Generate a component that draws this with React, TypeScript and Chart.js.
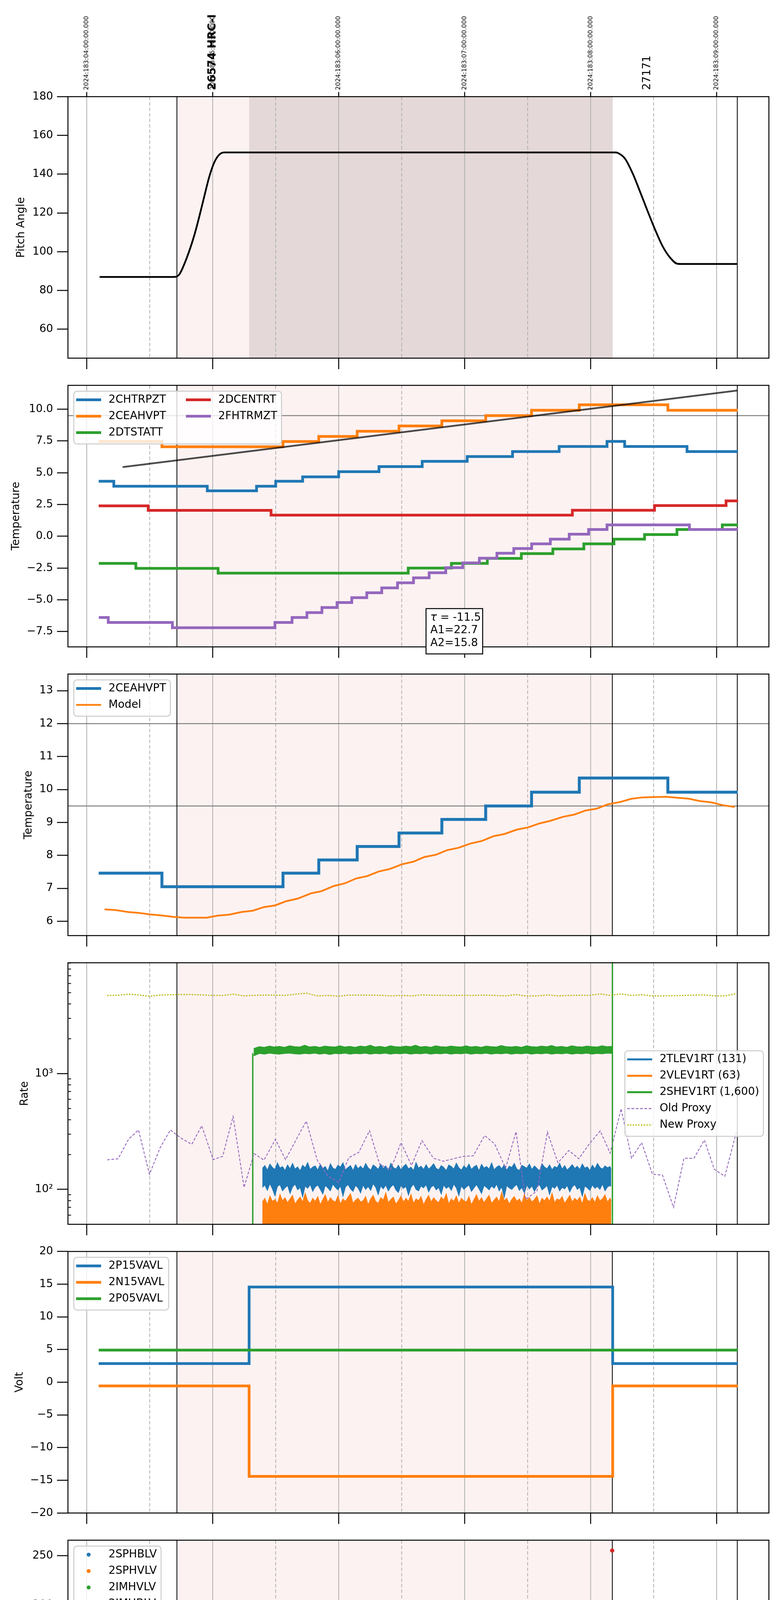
import React, { useEffect, useRef } from 'react';
import Chart from 'chart.js/auto';

type Pt = [number, number | null];
type Tri = [number, number, number];

// time axis: hours after 2024:183:04:00 UT
const hourTicks = [0, 1, 2, 3, 4, 5];
const halfTicks = [0.5, 1.5, 2.5, 3.5, 4.5];
const hourLabels = ['00h', '01h', '02h', '03h', '04h', '05h'];
const halfLabel = '30';
const topTimeLabels = [
  '2024:183:04:00:00.000', '2024:183:05:00:00.000', '2024:183:06:00:00.000',
  '2024:183:07:00:00.000', '2024:183:08:00:00.000', '2024:183:09:00:00.000',
];
const obsLabels = [
  { t: 1.0, text: '26574 HRC-I', bold: true },
  { t: 4.45, text: '27171', bold: false },
];
const xTitle = '2024-07-01 (183)';
const obsWindow = [0.716, 4.172];
const hrcOnWindow = [1.289, 4.175];
const dataEnd = 5.164;

// panel 1
const pitchTicks = [60, 80, 100, 120, 140, 160, 180];
const pitchAngle: Pt[] = [
  [0.102, 87], [0.694, 87], [0.735, 88.3], [0.795, 97], [0.854, 108.5], [0.893, 118], [0.933, 128.5],
  [0.972, 138.5], [1.012, 146], [1.051, 150], [1.091, 151.2], [4.194, 151.2], [4.214, 151],
  [4.274, 147.9], [4.333, 140.5], [4.392, 131], [4.452, 121], [4.511, 111.5], [4.57, 103],
  [4.63, 97], [4.689, 93.8], [4.72, 93.7], [5.164, 93.7],
];

// panel 2
const tempTicks = [-7.5, -5, -2.5, 0, 2.5, 5, 7.5, 10];
const tempTickLabels = ['−7.5', '−5.0', '−2.5', '0.0', '2.5', '5.0', '7.5', '10.0'];
const chtrpzt: Pt[] = [
  [0.095, 4.33], [0.215, 3.94], [0.957, 3.58], [1.348, 3.94], [1.5, 4.33], [1.714, 4.68], [2.0, 5.09],
  [2.32, 5.49], [2.663, 5.9], [3.02, 6.28], [3.38, 6.67], [3.75, 7.07], [4.13, 7.47], [4.27, 7.07],
  [4.765, 6.67], [5.17, 6.67],
];
const ceahvpt: Pt[] = [
  [0.095, 7.46], [0.597, 7.05], [1.558, 7.46], [1.842, 7.86], [2.147, 8.27], [2.479, 8.68], [2.819, 9.09],
  [3.167, 9.5], [3.531, 9.92], [3.91, 10.35], [4.613, 9.92], [5.167, 9.92],
];
const dtstatt: Pt[] = [
  [0.096, -2.13], [0.39, -2.52], [1.043, -2.9], [2.552, -2.5], [2.895, -2.13], [3.18, -1.74], [3.45, -1.36],
  [3.7, -0.99], [3.946, -0.59], [4.185, -0.22], [4.428, 0.14], [4.685, 0.54], [5.045, 0.9], [5.17, 0.9],
];
const dcentrt: Pt[] = [
  [0.095, 2.4], [0.488, 2.04], [1.463, 1.67], [3.855, 2.05], [4.507, 2.42], [5.075, 2.79], [5.17, 2.79],
];
const fhtrmzt: Pt[] = [
  [0.096, -6.39], [0.171, -6.78], [0.68, -7.19], [1.494, -6.78], [1.63, -6.39], [1.748, -6.0], [1.867, -5.6],
  [1.987, -5.21], [2.104, -4.83], [2.223, -4.44], [2.342, -4.06], [2.467, -3.66], [2.594, -3.27],
  [2.718, -2.87], [2.85, -2.47], [2.985, -2.09], [3.117, -1.72], [3.256, -1.33], [3.39, -0.96],
  [3.532, -0.59], [3.68, -0.22], [3.83, 0.17], [3.984, 0.54], [4.13, 0.9], [4.784, 0.54], [5.17, 0.54],
];
const ceahFit: Pt[] = [[0.285, 5.45], [5.164, 11.47]];
const fitLabels = ['τ = -11.5', 'A1=22.7', 'A2=15.8'];

// panel 3
const modelTicks = [6, 7, 8, 9, 10, 11, 12, 13];
const ceahModel: Pt[] = [
  [0.142, 6.36], [0.229, 6.34], [0.328, 6.28], [0.419, 6.25], [0.498, 6.21], [0.585, 6.18], [0.696, 6.13],
  [0.775, 6.11], [0.953, 6.11], [1.04, 6.17], [1.131, 6.2], [1.229, 6.28], [1.317, 6.32], [1.407, 6.43],
  [1.494, 6.48], [1.585, 6.61], [1.676, 6.69], [1.783, 6.85], [1.862, 6.91], [1.961, 7.07], [2.048, 7.15],
  [2.139, 7.3], [2.226, 7.37], [2.317, 7.51], [2.408, 7.59], [2.502, 7.73], [2.594, 7.81], [2.68, 7.95],
  [2.772, 8.02], [2.862, 8.16], [2.95, 8.23], [3.048, 8.36], [3.139, 8.44], [3.226, 8.58], [3.317, 8.65],
  [3.412, 8.78], [3.503, 8.85], [3.594, 8.97], [3.681, 9.05], [3.78, 9.17], [3.871, 9.24], [3.958, 9.36],
  [4.049, 9.42], [4.136, 9.55], [4.234, 9.62], [4.325, 9.72], [4.412, 9.76], [4.503, 9.77], [4.598, 9.78],
  [4.689, 9.75], [4.78, 9.72], [4.867, 9.65], [4.958, 9.61], [5.053, 9.52], [5.144, 9.47],
];

// panel 4 (rates, log)
const rateTicks = [100, 1000];
const rateTickLabels = ['10²', '10³'];
const rateMinorTicks = [60, 70, 80, 90, 200, 300, 400, 500, 600, 700, 800, 900, 2000, 3000, 4000, 5000, 6000, 7000, 8000, 9000];
const proxyTimes = [
  0.162, 0.249, 0.332, 0.411, 0.498, 0.585, 0.664, 0.747, 0.834, 0.913, 1.004, 1.079, 1.162, 1.249, 1.328,
  1.407, 1.498, 1.578, 1.664, 1.743, 1.83, 1.914, 2.0, 2.08, 2.159, 2.245, 2.325, 2.412, 2.495, 2.578,
  2.661, 2.752, 2.831, 2.91, 2.989, 3.068, 3.159, 3.238, 3.325, 3.408, 3.483, 3.574, 3.657, 3.74, 3.827,
  3.906, 3.989, 4.076, 4.155, 4.242, 4.325, 4.405, 4.491, 4.57, 4.658, 4.741, 4.82, 4.903, 4.982, 5.065, 5.156,
];
const oldProxy = [
  180, 184, 271, 326, 135, 232, 326, 278, 245, 355, 181, 193, 426, 104, 204, 179, 271, 181, 271, 389, 179,
  131, 115, 188, 209, 322, 165, 148, 254, 161, 264, 186, 175, 184, 193, 195, 292, 247, 153, 315, 82, 97,
  313, 170, 217, 184, 247, 320, 206, 497, 186, 254, 135, 133, 70, 186, 186, 267, 149, 130, 310,
];
const newProxy = [
  4732, 4742, 4853, 4781, 4656, 4764, 4797, 4817, 4817, 4781, 4732, 4732, 4853, 4690, 4742, 4764, 4764,
  4732, 4853, 4955, 4690, 4732, 4656, 4764, 4764, 4764, 4742, 4690, 4732, 4690, 4781, 4742, 4742, 4732,
  4742, 4732, 4764, 4732, 4690, 4817, 4690, 4690, 4781, 4690, 4732, 4742, 4742, 4876, 4732, 4876, 4732,
  4797, 4690, 4690, 4710, 4732, 4764, 4781, 4690, 4690, 4900,
];
// noisy event-rate bands, read as upper/lower edges at these sample times
const bandTimes = [
  1.394, 1.414, 1.434, 1.454, 1.474, 1.494, 1.514, 1.534, 1.554, 1.574,
  1.594, 1.614, 1.634, 1.654, 1.674, 1.694, 1.714, 1.734, 1.754, 1.774,
  1.794, 1.814, 1.834, 1.854, 1.874, 1.894, 1.914, 1.934, 1.954, 1.974,
  1.994, 2.014, 2.034, 2.054, 2.074, 2.094, 2.114, 2.134, 2.154, 2.174,
  2.194, 2.214, 2.234, 2.254, 2.274, 2.294, 2.314, 2.334, 2.354, 2.374,
  2.394, 2.414, 2.434, 2.454, 2.474, 2.494, 2.514, 2.534, 2.554, 2.574,
  2.594, 2.614, 2.634, 2.654, 2.674, 2.694, 2.714, 2.734, 2.754, 2.774,
  2.794, 2.814, 2.834, 2.854, 2.874, 2.894, 2.914, 2.934, 2.954, 2.974,
  2.994, 3.014, 3.034, 3.054, 3.074, 3.094, 3.114, 3.134, 3.154, 3.174,
  3.194, 3.214, 3.234, 3.254, 3.274, 3.294, 3.314, 3.334, 3.354, 3.374,
  3.394, 3.414, 3.434, 3.454, 3.474, 3.494, 3.514, 3.534, 3.554, 3.574,
  3.594, 3.614, 3.634, 3.654, 3.674, 3.694, 3.714, 3.734, 3.754, 3.774,
  3.794, 3.814, 3.834, 3.854, 3.874, 3.894, 3.914, 3.934, 3.954, 3.974,
  3.994, 4.014, 4.034, 4.054, 4.074, 4.094, 4.114, 4.134, 4.154, 4.163,
];
const tlevHigh = [
  152, 161, 147, 166, 155, 149, 170, 153, 158, 146, 163, 151, 168, 150, 157, 145, 162, 154, 171, 149,
  156, 160, 147, 165, 152, 158, 144, 167, 153, 149, 162, 156, 170, 148, 155, 161, 146, 164, 151, 159,
  150, 168, 154, 147, 163, 157, 149, 166, 152, 160, 145, 169, 155, 150, 162, 148, 158, 165, 151, 156,
  146, 171, 153, 159, 149, 164, 150, 157, 167, 152, 148, 161, 155, 146, 163, 158, 150, 169, 154, 147,
  160, 152, 166, 149, 157, 162, 145, 165, 153, 158, 150, 170, 148, 156, 161, 151, 164, 147, 159, 155,
  168, 150, 146, 162, 157, 153, 166, 149, 160, 152, 145, 167, 156, 151, 163, 148, 158, 154, 169, 150,
  161, 147, 155, 164, 152, 159, 149, 166, 153, 157, 146, 162, 151, 168, 155, 150, 160, 154, 158, 150,
];
const tlevLow = [
  104, 109, 98, 112, 101, 88, 106, 110, 97, 103, 108, 92, 105, 111, 99, 104, 86, 107, 102, 110,
  96, 105, 109, 100, 91, 108, 103, 97, 111, 104, 99, 107, 87, 105, 110, 101, 96, 108, 103, 93,
  109, 100, 106, 98, 112, 104, 90, 107, 101, 109, 97, 105, 110, 99, 94, 108, 102, 106, 89, 104,
  111, 100, 97, 107, 103, 110, 95, 105, 108, 99, 104, 91, 109, 102, 106, 98, 111, 103, 88, 107,
  100, 105, 109, 96, 103, 110, 101, 92, 108, 104, 99, 107, 102, 111, 97, 105, 85, 108, 103, 100,
  106, 110, 98, 104, 93, 109, 101, 107, 96, 105, 110, 99, 103, 108, 90, 106, 102, 109, 97, 104,
  101, 108, 95, 105, 110, 100, 104, 87, 107, 103, 98, 109, 102, 106, 100, 111, 97, 105, 108, 106,
];
const vlevHigh = [
  78, 84, 74, 88, 79, 82, 76, 91, 80, 85, 77, 83, 89, 75, 81, 86, 78, 93, 80, 76,
  84, 79, 87, 74, 82, 90, 77, 85, 80, 78, 88, 75, 83, 79, 86, 92, 76, 81, 84, 78,
  80, 87, 74, 83, 89, 79, 76, 85, 81, 94, 77, 82, 86, 75, 80, 88, 78, 84, 79, 91,
  76, 83, 80, 87, 74, 82, 89, 78, 85, 80, 77, 86, 81, 92, 75, 83, 79, 88, 76, 84,
  80, 78, 87, 74, 82, 90, 79, 85, 77, 83, 89, 76, 81, 86, 78, 95, 80, 84, 75, 82,
  87, 79, 83, 76, 91, 80, 85, 78, 82, 88, 75, 84, 80, 86, 79, 93, 77, 83, 81, 87,
  76, 82, 89, 78, 84, 80, 86, 75, 92, 81, 79, 85, 77, 88, 80, 83, 90, 78, 84, 80,
];
const shevBand: Tri[] = [
  [1.325, 1650, 1420], [1.37, 1710, 1490], [1.41, 1690, 1470], [1.45, 1730, 1500], [1.49, 1700, 1480],
  [1.53, 1720, 1470], [1.57, 1690, 1490], [1.61, 1740, 1500], [1.65, 1710, 1480], [1.69, 1700, 1470],
  [1.73, 1760, 1490], [1.77, 1700, 1480], [1.81, 1720, 1500], [1.85, 1690, 1470], [1.89, 1730, 1490],
  [1.93, 1710, 1460], [1.97, 1700, 1490], [2.01, 1740, 1480], [2.05, 1700, 1500], [2.09, 1720, 1470],
  [2.13, 1690, 1490], [2.17, 1730, 1480], [2.21, 1710, 1500], [2.25, 1760, 1470], [2.29, 1700, 1490],
  [2.33, 1720, 1480], [2.37, 1690, 1500], [2.41, 1740, 1470], [2.45, 1710, 1490], [2.49, 1700, 1480],
  [2.53, 1730, 1500], [2.57, 1710, 1470], [2.61, 1760, 1490], [2.65, 1700, 1480], [2.69, 1720, 1500],
  [2.73, 1690, 1470], [2.77, 1740, 1490], [2.81, 1710, 1480], [2.85, 1700, 1500], [2.89, 1730, 1470],
  [2.93, 1710, 1490], [2.97, 1700, 1480], [3.01, 1740, 1500], [3.05, 1700, 1470], [3.09, 1720, 1490],
  [3.13, 1690, 1480], [3.17, 1730, 1500], [3.21, 1710, 1470], [3.25, 1700, 1490], [3.29, 1750, 1480],
  [3.33, 1710, 1500], [3.37, 1700, 1470], [3.41, 1720, 1490], [3.45, 1690, 1480], [3.49, 1740, 1500],
  [3.53, 1710, 1470], [3.57, 1700, 1490], [3.61, 1730, 1480], [3.65, 1710, 1500], [3.69, 1750, 1470],
  [3.73, 1700, 1490], [3.77, 1720, 1480], [3.81, 1690, 1500], [3.85, 1740, 1470], [3.89, 1710, 1490],
  [3.93, 1700, 1480], [3.97, 1730, 1500], [4.01, 1710, 1470], [4.05, 1700, 1490], [4.09, 1740, 1480],
  [4.13, 1710, 1500], [4.17, 1720, 1490],
];
const shevEdges: Pt[] = [[1.318, 1], [1.318, 1500], [1.319, null], [4.173, 100000], [4.173, 1]];

// panel 5
const voltTicks = [-20, -15, -10, -5, 0, 5, 10, 15, 20];
const voltTickLabels = ['−20', '−15', '−10', '−5', '0', '5', '10', '15', '20'];
const p15vavl: Pt[] = [[0.095, 2.86], [1.289, 14.57], [4.175, 2.86], [5.17, 2.86]];
const n15vavl: Pt[] = [[0.095, -0.57], [1.289, -14.4], [4.175, -0.57], [5.17, -0.57]];
const p05vavl: Pt[] = [[0.095, 4.91], [5.17, 4.91]];

// panel 6
const hvTicks = [0, 50, 100, 150, 200, 250];
const imhvlvRamp: Pt[] = [
  [1.34, 100.3], [1.344, 98.4], [1.352, 95.7], [1.36, 90.8], [1.368, 87], [1.376, 84.3], [1.388, 81.7], [1.4, 79.4],
];
const imhvlvLevel: Pt[] = [[1.4, 79.4], [4.175, 79.4]];
const imhvlvOutliers: Pt[] = [[1.732, 127.3], [2.261, 127.3], [2.317, 127.3], [2.337, 127.3]];
const imhblvRamp: Pt[] = [
  [1.34, 128], [1.34, 126.1], [1.34, 124.2], [1.344, 119.3], [1.344, 106.4], [1.352, 105.2], [1.356, 101.4],
  [1.364, 97.6], [1.372, 93.8], [1.384, 90.8], [1.396, 88.1], [1.4, 86.2],
];
const imhblvLevel: Pt[] = [[1.4, 86.2], [4.175, 86.2]];
const imhblvOutliers: Pt[] = [[1.732, 79.4], [1.763, 79.4], [2.261, 79.4], [2.317, 79.4], [2.337, 79.4], [4.171, 255.3]];

// panel 7
const detTicks = [2.5, 5, 7.5, 10, 12.5, 15, 17.5];
const detTickLabels = ['2.5', '5.0', '7.5', '10.0', '12.5', '15.0', '17.5'];
const spinatm: Pt[] = [[1.289, -5], [1.289, 3.17], [1.348, 3.67], [1.498, 3.17], [2.068, 3.67], [3.392, 4.17], [4.163, 4.17]];
const sphvatm: Pt[] = [
  [1.289, -5], [1.289, 15.3], [2.107, 15.66], [2.495, 16.02], [2.843, 16.37], [2.89, 15.95], [2.893, 16.37],
  [3.167, 16.7], [3.49, 17.06], [3.819, 17.41], [4.143, 17.76], [4.163, 17.76],
];
const iminatm: Pt[] = [[1.289, -5], [1.289, 1.75], [3.373, 2.22], [4.163, 2.22]];
const imhvatm: Pt[] = [
  [1.289, -5], [1.289, 14.65], [1.494, 14.99], [1.613, 15.33], [1.732, 15.73], [1.862, 16.09], [2.0, 16.37],
  [2.167, 16.73], [2.344, 17.06], [2.554, 17.41], [2.791, 17.76], [3.028, 18.13], [3.293, 18.47],
  [3.582, 18.84], [3.867, 19.2], [4.175, 19.2], [4.175, 40], [4.177, -10],
];
// telemetry dropouts: [from, to] hours, and per series [low, high] during each window
const glitchWindows = [[1.704, 1.795], [1.831, 1.91], [2.206, 2.356]];
const spinatmGlitch = [[-5, 3.17], [-5, 3.17], [-5, 3.67]];
const sphvatmGlitch = [[8.62, 15.3], [8.95, 15.3], [9.6, 15.66]];
const iminatmGlitch = [[1.75, 3.24], [1.75, 3.24], [1.75, 3.7]];
const imhvatmGlitch = [[15.3, 15.73], [15.3, 16.09], [15.6, 16.73]];

// panel 8
const feaTicks = [-8, -6, -4, -2, 0];
const feaTickLabels = ['−8', '−6', '−4', '−2', '0'];
const fradpyt: Pt[] = [
  [1.656, -20], [1.656, -7.95], [1.771, -7.55], [1.882, -7.14], [2.0, -6.77], [2.119, -6.37], [2.23, -5.95],
  [2.356, -5.58], [2.483, -5.19], [2.621, -4.79], [2.76, -4.39], [2.89, -4.02], [3.029, -3.65], [3.175, -3.26],
  [3.325, -2.87], [3.471, -2.48], [3.622, -2.11], [3.78, -1.73], [3.938, -1.37], [4.104, -0.99], [4.44, -1.37],
  [4.598, -1.74], [4.729, -1.37], [5.005, -1.74], [5.171, -1.74],
];
const fepratm: Pt[] = [
  [1.289, -20], [1.289, -7.31], [1.356, -6.86], [1.4, -6.44], [1.447, -6.03], [1.51, -5.62], [1.593, -5.2],
  [1.684, -4.75], [1.803, -4.36], [1.902, -3.94], [2.02, -3.53], [2.147, -3.1], [2.258, -2.68], [2.396, -2.26],
  [2.542, -1.83], [2.68, -1.41], [2.831, -0.97], [2.977, -0.54], [3.127, -0.08], [3.286, 0.36], [3.452, 0.81],
  [3.622, 1.28], [3.792, 1.73], [3.969, 2.1], [4.158, 2.1], [4.16, 1.0],
];
const fe00atm: Pt[] = [
  [1.289, -20], [1.289, -8.17], [1.447, -7.83], [1.558, -7.46], [1.645, -7.08], [1.75, -6.71], [1.822, -6.41],
  [1.921, -6.03], [2.0, -5.68], [2.08, -5.35], [2.178, -4.98], [2.27, -4.64], [2.356, -4.3], [2.475, -3.96],
  [2.562, -3.62], [2.673, -3.29], [2.76, -2.57], [2.762, -3.29], [2.772, -2.95], [2.882, -2.61], [2.989, -2.29],
  [3.096, -1.95], [3.147, -0.58], [3.15, -1.95], [3.206, -1.61], [3.317, -1.28], [3.424, -0.95], [3.542, -0.62],
  [3.55, -0.26], [3.553, -0.62], [3.661, -0.28], [3.772, 0.04], [3.886, 0.38], [4.005, 0.68], [4.136, 1.0],
  [4.175, 1.0], [4.175, 20], [4.177, -20],
];
const fe00atmGlitch = [[-7.2, 20], [-6.5, 20], [-5.0, 20]];
const fepratmGlitch = [null, null, [-6.03, -2.68]];

// ---------------------------------------------------------------------------
const FONT = '"DejaVu Sans", sans-serif';
const FS = 27.8;
const X_MIN = -0.149;
const X_MAX = 5.415;
const Y_AXIS_W = 174;
const RIGHT_PAD = 31;
const PANEL_TOP = 247.4;
const PANEL_H = 669.5;
const PANEL_STEP = 739.1;

const C = {
  blue: '#1f77b4', orange: '#ff7f0e', green: '#2ca02c', red: '#d62728',
  purple: '#9467bd', olive: '#bcbd22', pink: '#fdf2f2', rose: '#e4d8d8',
};

const xy = (a: Pt[]) => a.map(([x, y]) => ({ x, y }));
const zipT = (times: number[], vals: number[]) => times.map((t, i) => [t, vals[i]] as Pt);
const ln = (label: string, a: Pt[], color: string, width: number, more: any = {}) => ({
  label, data: xy(a), borderColor: color, backgroundColor: color, borderWidth: width,
  pointRadius: 0, fill: false, ...more,
});
const stp = (label: string, a: Pt[], color: string, width: number, more: any = {}) =>
  ln(label, a, color, width, { stepped: 'before', ...more });
const glitches = (ranges: any[], color: string) =>
  ranges.flatMap((r, i) => (r ? [{
    label: '', data: [{ x: glitchWindows[i][0], y: r[1] }, { x: glitchWindows[i][1], y: r[1] }],
    borderColor: 'rgba(0,0,0,0)', backgroundColor: color, borderWidth: 1, pointRadius: 0, fill: { value: r[0] },
  }] : []));
const dots = (a: Pt[], color: string) => ({
  label: '', data: xy(a), showLine: false, pointRadius: 5, pointBackgroundColor: color,
  pointBorderColor: color, pointBorderWidth: 1, borderColor: color, backgroundColor: color,
});

interface LegendItem { label: string; color: string; kind?: 'line' | 'dot'; width?: number; dash?: number[] }
interface Deco {
  bands: { from: number; to: number; color: string }[];
  vlines: number[];
  hlines?: number[];
  legend?: { loc: 'tl' | 'cr'; cols?: number; items: LegendItem[] };
  minorY?: number[];
  top?: boolean;
  bottom?: boolean;
  fitBox?: boolean;
}

const pinkBand = { from: obsWindow[0], to: obsWindow[1], color: C.pink };
const allVlines = [obsWindow[0], obsWindow[1], dataEnd];

function drawLegend(ctx: CanvasRenderingContext2D, ca: any, lg: NonNullable<Deco['legend']>) {
  ctx.font = `${FS}px ${FONT}`;
  const n = lg.items.length;
  const cols = lg.cols ?? 1;
  const rows = Math.ceil(n / cols);
  const colW = 281;
  const lastCol = lg.items.slice((cols - 1) * rows);
  const textW = Math.max(...lastCol.map((it) => ctx.measureText(it.label).width));
  const w = (cols - 1) * colW + 6 + 83 + textW + 11;
  const h = 51 + (rows - 1) * 42;
  const left = lg.loc === 'cr' ? ca.right - 14 - w : ca.left + 15;
  const top = lg.loc === 'cr' ? (ca.top + ca.bottom) / 2 - h / 2 : ca.top + 15;
  ctx.beginPath();
  ctx.roundRect(left, top, w, h, 8);
  ctx.fillStyle = 'rgba(255,255,255,0.8)';
  ctx.fill();
  ctx.strokeStyle = '#cccccc';
  ctx.lineWidth = 2.5;
  ctx.stroke();
  lg.items.forEach((it, i) => {
    const c = Math.floor(i / rows);
    const r = i % rows;
    const sx = left + 6 + c * colW;
    const y = top + 22 + r * 42;
    if (it.kind === 'dot') {
      ctx.fillStyle = it.color;
      ctx.beginPath();
      ctx.arc(sx + 32, y, 5, 0, Math.PI * 2);
      ctx.fill();
    } else {
      ctx.strokeStyle = it.color;
      ctx.lineWidth = it.width ?? 7;
      ctx.setLineDash(it.dash ?? []);
      ctx.beginPath();
      ctx.moveTo(sx, y);
      ctx.lineTo(sx + 64, y);
      ctx.stroke();
      ctx.setLineDash([]);
    }
    ctx.fillStyle = '#000';
    ctx.textAlign = 'left';
    ctx.textBaseline = 'middle';
    ctx.fillText(it.label, sx + 83, y);
  });
}

const makeDeco = (d: Deco) => ({
  id: 'deco',
  beforeDatasetsDraw(chart: any) {
    const { ctx, chartArea: ca, scales } = chart;
    const X = (v: number) => scales.x.getPixelForValue(v);
    const Y = (v: number) => scales.y.getPixelForValue(v);
    const vline = (x: number) => { ctx.beginPath(); ctx.moveTo(x, ca.top); ctx.lineTo(x, ca.bottom); ctx.stroke(); };
    ctx.save();
    ctx.beginPath();
    ctx.rect(ca.left, ca.top, ca.right - ca.left, ca.bottom - ca.top);
    ctx.clip();
    for (const b of d.bands) {
      ctx.fillStyle = b.color;
      ctx.fillRect(X(b.from), ca.top, X(b.to) - X(b.from), ca.bottom - ca.top);
    }
    ctx.strokeStyle = '#b0b0b0';
    ctx.lineWidth = 2;
    hourTicks.forEach((t) => vline(X(t)));
    ctx.setLineDash([9, 5]);
    halfTicks.forEach((t) => vline(X(t)));
    ctx.setLineDash([]);
    ctx.strokeStyle = '#808080';
    ctx.lineWidth = 2.5;
    for (const v of d.hlines ?? []) {
      ctx.beginPath(); ctx.moveTo(ca.left, Y(v)); ctx.lineTo(ca.right, Y(v)); ctx.stroke();
    }
    ctx.strokeStyle = '#000';
    ctx.lineWidth = 2;
    d.vlines.forEach((t) => vline(X(t)));
    ctx.restore();
  },
  afterDatasetsDraw(chart: any) {
    const { ctx, chartArea: ca, scales } = chart;
    const X = (v: number) => scales.x.getPixelForValue(v);
    const Y = (v: number) => scales.y.getPixelForValue(v);
    ctx.save();
    ctx.strokeStyle = '#000';
    ctx.lineWidth = 2.5;
    ctx.strokeRect(ca.left, ca.top, ca.right - ca.left, ca.bottom - ca.top);
    ctx.beginPath();
    for (const t of hourTicks) {
      const x = X(t);
      ctx.moveTo(x, ca.bottom);
      ctx.lineTo(x, ca.bottom + 28);
      if (d.top) { ctx.moveTo(x, ca.top); ctx.lineTo(x, ca.top - 12); }
    }
    ctx.stroke();
    if (d.minorY) {
      ctx.lineWidth = 2;
      ctx.beginPath();
      for (const v of d.minorY) { const y = Y(v); ctx.moveTo(ca.left, y); ctx.lineTo(ca.left + 8, y); }
      ctx.stroke();
    }
    if (d.legend) drawLegend(ctx, ca, d.legend);
    if (d.fitBox) {
      const bx = ca.left + 917;
      const by = ca.bottom - 98;
      ctx.fillStyle = '#fff';
      ctx.fillRect(bx, by, 145, 116);
      ctx.strokeStyle = '#000';
      ctx.lineWidth = 2.5;
      ctx.strokeRect(bx, by, 145, 116);
      ctx.fillStyle = '#000';
      ctx.textAlign = 'left';
      ctx.textBaseline = 'middle';
      fitLabels.forEach((s, i) => {
        const y = by + 23.5 + i * 32.6;
        let x = bx + 11;
        let rest = s;
        if (s.startsWith('τ')) {
          ctx.font = `italic ${FS}px ${FONT}`;
          ctx.fillText('τ', x, y);
          x += ctx.measureText('τ').width;
          rest = s.slice(1);
        }
        ctx.font = `${FS}px ${FONT}`;
        ctx.fillText(rest, x, y);
      });
    }
    if (d.top) {
      ctx.fillStyle = '#000';
      ctx.textAlign = 'left';
      ctx.textBaseline = 'middle';
      const vtext = (t: number, text: string, font: string) => {
        ctx.save();
        ctx.translate(X(t), ca.top - 17);
        ctx.rotate(-Math.PI / 2);
        ctx.font = font;
        ctx.fillText(text, 0, 0);
        ctx.restore();
      };
      hourTicks.forEach((t, i) => vtext(t, topTimeLabels[i], `16px ${FONT}`));
      obsLabels.forEach((o) => vtext(o.t, o.text, `${o.bold ? 'bold ' : ''}${FS}px ${FONT}`));
    }
    if (d.bottom) {
      ctx.fillStyle = '#000';
      ctx.textAlign = 'center';
      ctx.textBaseline = 'middle';
      ctx.font = `${FS}px ${FONT}`;
      hourTicks.forEach((t, i) => ctx.fillText(hourLabels[i], X(t), ca.bottom + 49.5));
      ctx.font = `18.5px ${FONT}`;
      halfTicks.forEach((t) => ctx.fillText(halfLabel, X(t), ca.bottom + 15));
      ctx.font = `33.3px ${FONT}`;
      ctx.fillText(xTitle, (ca.left + ca.right) / 2, ca.bottom + 88);
    }
    ctx.restore();
  },
});

interface PanelSpec {
  title: string;
  titlePad: number;
  log?: boolean;
  min: number;
  max: number;
  ticks: number[];
  labels: string[];
  datasets: any[];
  deco: Deco;
}

const yAxis = (p: PanelSpec) => ({
  type: p.log ? 'logarithmic' : 'linear',
  min: p.min,
  max: p.max,
  afterBuildTicks: (s: any) => { s.ticks = p.ticks.map((v) => ({ value: v })); },
  afterFit: (s: any) => { s.width = Y_AXIS_W; },
  ticks: {
    autoSkip: false, padding: 10, color: '#000', font: { family: FONT, size: FS },
    callback: (_v: any, i: number) => p.labels[i],
  },
  grid: { drawOnChartArea: false, drawTicks: true, tickLength: 28, tickWidth: 2.5, tickColor: '#000' },
  border: { display: false },
  title: { display: true, text: p.title, color: '#000', font: { family: FONT, size: FS }, padding: { top: p.titlePad, bottom: 0 } },
});

const num = (a: number[]) => a.map(String);

const panels: PanelSpec[] = [
  {
    title: 'Pitch Angle', titlePad: 38, min: 45.1, max: 180, ticks: pitchTicks, labels: num(pitchTicks),
    datasets: [ln('Pitch', pitchAngle, '#000', 4.5, { cubicInterpolationMode: 'monotone' })],
    deco: {
      bands: [pinkBand, { from: hrcOnWindow[0], to: hrcOnWindow[1], color: C.rose }],
      vlines: [obsWindow[0], dataEnd], top: true,
    },
  },
  {
    title: 'Temperature', titlePad: 25, min: -8.7, max: 11.88, ticks: tempTicks, labels: tempTickLabels,
    datasets: [
      stp('2CHTRPZT', chtrpzt, C.blue, 7),
      stp('2CEAHVPT', ceahvpt, C.orange, 7),
      stp('2DTSTATT', dtstatt, C.green, 7),
      stp('2DCENTRT', dcentrt, C.red, 7),
      stp('2FHTRMZT', fhtrmzt, C.purple, 7),
      ln('fit', ceahFit, 'rgba(0,0,0,0.7)', 4.5),
    ],
    deco: {
      bands: [pinkBand], vlines: allVlines, hlines: [9.5], fitBox: true,
      legend: {
        loc: 'tl', cols: 2,
        items: [
          { label: '2CHTRPZT', color: C.blue }, { label: '2CEAHVPT', color: C.orange },
          { label: '2DTSTATT', color: C.green }, { label: '2DCENTRT', color: C.red },
          { label: '2FHTRMZT', color: C.purple },
        ],
      },
    },
  },
  {
    title: 'Temperature', titlePad: 57, min: 5.565, max: 13.505, ticks: modelTicks, labels: num(modelTicks),
    datasets: [stp('2CEAHVPT', ceahvpt, C.blue, 7.5), ln('Model', ceahModel, C.orange, 4.5)],
    deco: {
      bands: [pinkBand], vlines: allVlines, hlines: [9.5, 12],
      legend: { loc: 'tl', items: [{ label: '2CEAHVPT', color: C.blue, width: 7 }, { label: 'Model', color: C.orange, width: 4.5 }] },
    },
  },
  {
    title: 'Rate', titlePad: 47, log: true, min: 50, max: 9057, ticks: rateTicks, labels: rateTickLabels,
    datasets: [
      ln('2TLEV1RT (131)', zipT(bandTimes, tlevHigh), C.blue, 1.5, { fill: '+1' }),
      ln('', zipT(bandTimes, tlevLow), C.blue, 1.5),
      ln('2VLEV1RT (63)', zipT(bandTimes, vlevHigh), C.orange, 1.5, { fill: 'start' }),
      ln('', shevEdges, C.green, 3.5),
      ln('2SHEV1RT (1,600)', shevBand.map(([t, hi]) => [t, hi] as Pt), C.green, 1.5, { fill: '+1' }),
      ln('', shevBand.map(([t, , lo]) => [t, lo] as Pt), C.green, 1.5),
      ln('Old Proxy', zipT(proxyTimes, oldProxy), C.purple, 2.2, { borderDash: [7, 4] }),
      ln('New Proxy', zipT(proxyTimes, newProxy), C.olive, 3, { borderDash: [4, 3] }),
    ],
    deco: {
      bands: [pinkBand], vlines: allVlines, minorY: rateMinorTicks,
      legend: {
        loc: 'cr',
        items: [
          { label: '2TLEV1RT (131)', color: C.blue, width: 5 },
          { label: '2VLEV1RT (63)', color: C.orange, width: 5 },
          { label: '2SHEV1RT (1,600)', color: C.green, width: 5 },
          { label: 'Old Proxy', color: C.purple, width: 2.5, dash: [7, 4] },
          { label: 'New Proxy', color: C.olive, width: 3, dash: [4, 3] },
        ],
      },
    },
  },
  {
    title: 'Volt', titlePad: 34, min: -20, max: 20, ticks: voltTicks, labels: voltTickLabels,
    datasets: [
      stp('2P15VAVL', p15vavl, C.blue, 7),
      stp('2N15VAVL', n15vavl, C.orange, 7),
      stp('2P05VAVL', p05vavl, C.green, 7),
    ],
    deco: {
      bands: [pinkBand], vlines: allVlines,
      legend: { loc: 'tl', items: [{ label: '2P15VAVL', color: C.blue }, { label: '2N15VAVL', color: C.orange }, { label: '2P05VAVL', color: C.green }] },
    },
  },
  {
    title: 'HV Monitor', titlePad: 38, min: 0, max: 265.8, ticks: hvTicks, labels: num(hvTicks),
    datasets: [
      ln('2IMHVLV', imhvlvLevel, C.green, 11),
      dots(imhvlvRamp, C.green),
      dots(imhvlvOutliers, C.green),
      ln('2IMHBLV', imhblvLevel, C.red, 11),
      dots(imhblvRamp, C.red),
      dots(imhblvOutliers, C.red),
    ],
    deco: {
      bands: [pinkBand], vlines: allVlines,
      legend: {
        loc: 'tl',
        items: [
          { label: '2SPHBLV', color: C.blue, kind: 'dot' }, { label: '2SPHVLV', color: C.orange, kind: 'dot' },
          { label: '2IMHVLV', color: C.green, kind: 'dot' }, { label: '2IMHBLV', color: C.red, kind: 'dot' },
        ],
      },
    },
  },
  {
    title: 'Detector Temp', titlePad: 30, min: 0.23, max: 19.94, ticks: detTicks, labels: detTickLabels,
    datasets: [
      stp('2SPINATM', spinatm, C.blue, 6.5), ...glitches(spinatmGlitch, C.blue),
      stp('2SPHVATM', sphvatm, C.orange, 6.5), ...glitches(sphvatmGlitch, C.orange),
      stp('2IMINATM', iminatm, C.green, 6.5), ...glitches(iminatmGlitch, C.green),
      stp('2IMHVATM', imhvatm, C.red, 6.5), ...glitches(imhvatmGlitch, C.red),
    ],
    deco: {
      bands: [pinkBand], vlines: allVlines,
      legend: {
        loc: 'tl',
        items: [
          { label: '2SPINATM', color: C.blue }, { label: '2SPHVATM', color: C.orange },
          { label: '2IMINATM', color: C.green }, { label: '2IMHVATM', color: C.red },
        ],
      },
    },
  },
  {
    title: 'FEA Temp', titlePad: 53, min: -8.27, max: 1.85, ticks: feaTicks, labels: feaTickLabels,
    datasets: [
      stp('2FHTRMZT', fhtrmzt, C.blue, 6.5),
      stp('2FRADPYT', fradpyt, C.orange, 6.5),
      stp('2FEPRATM', fepratm, C.green, 6.5), ...glitches(fepratmGlitch, C.green),
      stp('2FE00ATM', fe00atm, C.red, 6.5), ...glitches(fe00atmGlitch, C.red),
    ],
    deco: {
      bands: [pinkBand], vlines: allVlines, bottom: true,
      legend: {
        loc: 'tl',
        items: [
          { label: '2FHTRMZT', color: C.blue }, { label: '2FRADPYT', color: C.orange },
          { label: '2FEPRATM', color: C.green }, { label: '2FE00ATM', color: C.red },
        ],
      },
    },
  },
];

function Panel({ index, spec }: { index: number; spec: PanelSpec }) {
  const canvasRef = useRef<HTMLCanvasElement>(null);
  const chartTop = PANEL_TOP + index * PANEL_STEP;
  const canvasTop = index === 0 ? 0 : Math.floor(chartTop - 40);
  const canvasBottom = index === panels.length - 1 ? 6200 : Math.ceil(chartTop + PANEL_H + 40);
  const height = canvasBottom - canvasTop;
  const padTop = chartTop - canvasTop;
  const padBottom = height - padTop - PANEL_H;

  useEffect(() => {
    if (!canvasRef.current) return;
    const n = spec.datasets.length;
    const chart = new Chart(canvasRef.current, {
      type: 'line',
      data: { datasets: spec.datasets.map((ds, i) => ({ ...ds, order: n - i })) },
      options: {
        animation: false,
        responsive: false,
        events: [],
        layout: { padding: { top: padTop, bottom: padBottom, left: 0, right: RIGHT_PAD } },
        scales: {
          x: { type: 'linear', display: false, min: X_MIN, max: X_MAX },
          y: yAxis(spec) as any,
        },
        plugins: { legend: { display: false }, tooltip: { enabled: false } },
      },
      plugins: [makeDeco(spec.deco)],
    });
    return () => chart.destroy();
  }, []);

  return (
    <div style={{ position: 'absolute', left: 0, top: canvasTop, width: 2000, height }}>
      <canvas ref={canvasRef} width={2000} height={height} style={{ width: 2000, height }} />
    </div>
  );
}

export default function App() {
  return (
    <div style={{ position: 'absolute', left: 0, top: 0, width: 2000, height: 6200, background: '#fff' }}>
      {panels.map((p, i) => <Panel key={i} index={i} spec={p} />)}
    </div>
  );
}
